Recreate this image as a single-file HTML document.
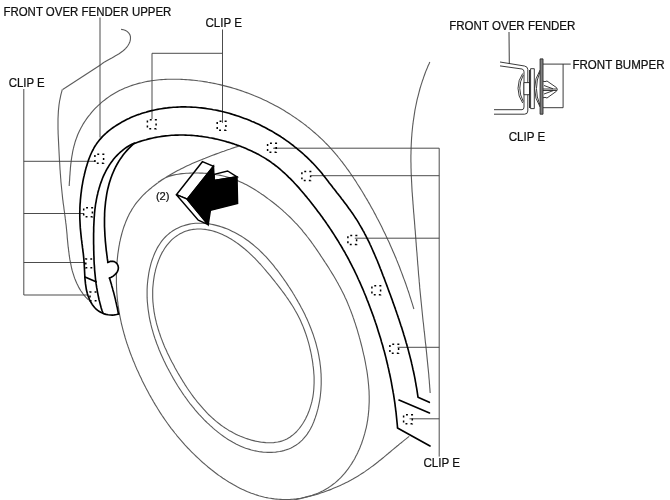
<!DOCTYPE html><html><head><meta charset="utf-8"><title>Front over fender upper</title>
<style>html,body{margin:0;padding:0;background:#fff}svg{display:block}text{font-family:"Liberation Sans",sans-serif;fill:#111}</style></head><body>
<svg width="670" height="500" viewBox="0 0 670 500">
<rect width="670" height="500" fill="#fff"/>
<g fill="none" stroke="#5c5c5c" stroke-width="1.12">
<path d="M121.1 29.4L123.5 29.7 125.6 30.5 127.4 31.6 128.8 33.0 129.8 34.6 130.4 36.4 130.5 38.2 130.3 40.1 129.8 42.0 129.0 43.8 128.0 45.5 126.8 47.1 125.5 48.6 124.0 50.0 122.5 51.3 120.8 52.5 119.1 53.7 117.3 54.8 115.5 55.8 113.6 56.9 111.8 57.9 109.9 58.9 108.1 59.9 106.3 60.9 104.6 61.9 103.0 63.0 101.5 64.1 100.1 65.3"/>
<path d="M62.3 89.4L61.8 91.3 61.3 93.2 60.8 95.2 60.4 97.1 60.0 99.1 59.6 101.0 59.3 103.0 59.0 105.0 58.8 107.0 58.6 108.9 58.4 110.9 58.3 112.9 58.2 114.9 58.1 116.9 58.0 118.9 58.0 120.9 58.0 122.9 58.0 125.0 58.0 127.0 58.0 129.0 58.1 131.0 58.1 133.0 58.2 135.0 58.3 137.1 58.4 139.1 58.5 141.1 58.6 143.1 58.7 145.1 58.8 147.2 58.9 149.2 59.0 151.2 59.1 153.2 59.2 155.2 59.3 157.2 59.4 159.2 59.5 161.2 59.7 163.2 59.8 165.2 59.9 167.2 60.0 169.2 60.2 171.2 60.3 173.2 60.5 175.2 60.6 177.2 60.8 179.2 60.9 181.2 61.1 183.2 61.3 185.2 61.5 187.2 61.7 189.2 61.9 191.2 62.1 193.2 62.3 195.1 62.5 197.1 62.7 199.1 63.0 201.1 63.2 203.1 63.5 205.0 63.8 207.0 64.0 209.0 64.3 211.0 64.6 213.0 64.8 214.9 65.1 216.9 65.3 218.9 65.6 220.9 65.8 222.9 66.1 224.9 66.3 226.9 66.5 228.9 66.7 231.0 66.9 233.0 67.1 235.0 67.2 237.1 67.4 239.1 67.6 241.1 67.8 243.1 68.0 245.2 68.2 247.2 68.5 249.2 68.7 251.2 69.0 253.2 69.2 255.2 69.5 257.2 69.8 259.2 70.2 261.2 70.6 263.2 71.0 265.1 71.4 267.1 71.8 269.0 72.3 270.9 72.9 272.8 73.5 274.7 74.1 276.6 74.7 278.4 75.5 280.2 76.2 282.1 77.0 283.8 77.9 285.6 78.8 287.4 79.8 289.1 80.8 290.8 82.0 292.4 83.1 294.0 84.4 295.6 85.7 297.2 87.2 298.7 88.7 300.2"/>
<path d="M69.2 186.0L69.3 184.0 69.4 182.0 69.6 180.1 69.7 178.1 69.8 176.1 70.0 174.1 70.1 172.1 70.3 170.1 70.4 168.1 70.6 166.1 70.8 164.1 71.1 162.1 71.3 160.1 71.6 158.1 71.9 156.1 72.3 154.1 72.6 152.1 73.0 150.2 73.5 148.2 73.9 146.3 74.5 144.3 75.0 142.4 75.6 140.5 76.3 138.6 77.0 136.7 77.7 134.8 78.5 133.0 79.3 131.2 80.2 129.4 81.2 127.6 82.1 125.9 83.1 124.1 84.2 122.4 85.3 120.7 86.4 119.1 87.6 117.4 88.8 115.8 90.1 114.3 91.4 112.7 92.7 111.2 94.0 109.7 95.4 108.2 96.8 106.8 98.3 105.4 99.8 104.1 101.3 102.7 102.8 101.4 104.4 100.2 105.9 99.0 107.6 97.8 109.2 96.6 110.8 95.5 112.5 94.5 114.2 93.5 115.9 92.5 117.7 91.5 119.4 90.6 121.2 89.8 123.0 88.9 124.8 88.1 126.6 87.4 128.4 86.7 130.3 86.0 132.1 85.4 134.0 84.8 135.9 84.2 137.8 83.6 139.7 83.1 141.7 82.7 143.6 82.2 145.5 81.8 147.5 81.4 149.5 81.1 151.4 80.8 153.4 80.5 155.4 80.2 157.4 80.0 159.4 79.8 161.4 79.6 163.5 79.5 165.5 79.4 167.5 79.3 169.5 79.2 171.6 79.2 173.6 79.2 175.6 79.2 177.7 79.2 179.7 79.3 181.7 79.4 183.8 79.5 185.8 79.6 187.8 79.7 189.9 79.9 191.9 80.1 193.9 80.3 196.0 80.5 198.0 80.8 200.0 81.0 202.0 81.3 204.0 81.6 206.0 81.9 208.0 82.3 210.0 82.6 211.9 83.0 213.9 83.4 215.9 83.8 217.8 84.2 219.8 84.6 221.7 85.1 223.7 85.6 225.6 86.1 227.6 86.6 229.5 87.1 231.4 87.6 233.3 88.2 235.2 88.8 237.1 89.4 239.0 90.0 240.9 90.6 242.8 91.2 244.6 91.9 246.5 92.6 248.4 93.3 250.2 94.0 252.1 94.7 253.9 95.5 255.7 96.2 257.6 97.0 259.4 97.8 261.2 98.6 263.0 99.4 264.8 100.3 266.6 101.1 268.4 102.0 270.2 102.9 271.9 103.8 273.7 104.7 275.5 105.7 277.2 106.6 279.0 107.6 280.7 108.6 282.4 109.6 284.2 110.6 285.9 111.7 287.6 112.7 289.3 113.8 291.0 114.9 292.6 116.0 294.3 117.1 296.0 118.2 297.6 119.4 299.2 120.5 300.9 121.7 302.5 122.9 304.1 124.1 305.7 125.3 307.2 126.6 308.8 127.8 310.4 129.1 311.9 130.4 313.4 131.7 315.0 133.0 316.5 134.3 318.0 135.6 319.4 137.0 320.9 138.4 322.3 139.7 323.8 141.1 325.2 142.6 326.6 144.0 328.0 145.4 329.4 146.9 330.7 148.4 332.1 149.8 333.4 151.3 334.7 152.8 336.0 154.4 337.3 155.9 338.5 157.5 339.8 159.0 341.0 160.6 342.3 162.2 343.5 163.8 344.7 165.4 345.9 167.0 347.0 168.6 348.2 170.2 349.4 171.8 350.5 173.5 351.6 175.1 352.8 176.8 353.9 178.5 355.0 180.1 356.1 181.8 357.1 183.5 358.2 185.2 359.3 186.9 360.4 188.6 361.4 190.3 362.5 192.0 363.5 193.7 364.5 195.4 365.5 197.2 366.6 198.9 367.6 200.6 368.6 202.4 369.6 204.1 370.5 205.8 371.5 207.6 372.5 209.3 373.5 211.1 374.4 212.9 375.4 214.6 376.3 216.4 377.2 218.2 378.2 219.9 379.1 221.7 380.0 223.5 380.9 225.3 381.8 227.1 382.7 228.9 383.5 230.7 384.4 232.5 385.3 234.3 386.1 236.1 387.0 237.9 387.8 239.7 388.7 241.5 389.5 243.3 390.3 245.2 391.1 247.0 391.9 248.8 392.7 250.7 393.5 252.5 394.3 254.3 395.1 256.2 395.9 258.0 396.6 259.9 397.4 261.7 398.1 263.6 398.9 265.5 399.6 267.3 400.3 269.2 401.0 271.1 401.7 272.9 402.4 274.8 403.1 276.7 403.8 278.6 404.5 280.4 405.2 282.3 405.9 284.2 406.5 286.1 407.2 288.0 407.8 289.9 408.5 291.8 409.1 293.7 409.7 295.6 410.3 297.5 410.9 299.4 411.5 301.3 412.1 303.2 412.7 305.1 413.3 307.1 413.9 309.0"/>
<path d="M429.8 62.0L429.0 63.9 428.1 65.7 427.4 67.6 426.6 69.5 425.8 71.4 425.1 73.3 424.4 75.2 423.7 77.1 423.1 79.0 422.4 80.9 421.8 82.8 421.2 84.7 420.6 86.6 420.0 88.5 419.5 90.5 419.0 92.4 418.5 94.3 418.0 96.3 417.5 98.2 417.0 100.2 416.6 102.1 416.2 104.1 415.8 106.0 415.4 108.0 415.0 109.9 414.7 111.9 414.4 113.9 414.1 115.8 413.8 117.8 413.5 119.8 413.2 121.8 413.0 123.7 412.7 125.7 412.5 127.7 412.3 129.7 412.1 131.7 411.9 133.7 411.8 135.7 411.6 137.6 411.5 139.6 411.4 141.6 411.3 143.6 411.2 145.6 411.1 147.6 411.1 149.6 411.0 151.6 411.0 153.6 410.9 155.6 410.9 157.6 410.9 159.6 410.9 161.6 411.0 163.6 411.0 165.6 411.0 167.6 411.1 169.6 411.1 171.6 411.2 173.6 411.3 175.6 411.4 177.6 411.5 179.6 411.6 181.6 411.7 183.6 411.8 185.6 411.9 187.6 412.0 189.6 412.1 191.6 412.3 193.6 412.4 195.6 412.6 197.6 412.7 199.6 412.9 201.6 413.0 203.6 413.2 205.6 413.3 207.6 413.5 209.6 413.6 211.6 413.8 213.6 414.0 215.6 414.1 217.6 414.3 219.6 414.5 221.6 414.6 223.6 414.8 225.6 414.9 227.6 415.1 229.6 415.3 231.6 415.4 233.6 415.6 235.6 415.7 237.6 415.9 239.6 416.0 241.6 416.2 243.6 416.3 245.6 416.5 247.6 416.6 249.6 416.8 251.5 417.0 253.5 417.1 255.5 417.3 257.5 417.4 259.5 417.6 261.5 417.7 263.5 417.9 265.5 418.1 267.5 418.2 269.5 418.4 271.5 418.5 273.5 418.7 275.5 418.9 277.5 419.1 279.5 419.2 281.4 419.4 283.4 419.6 285.4 419.7 287.4 419.9 289.4 420.1 291.4 420.3 293.4 420.5 295.4 420.7 297.4 420.9 299.4 421.1 301.4 421.3 303.3 421.5 305.3 421.7 307.3 421.9 309.3 422.1 311.3 422.3 313.3 422.5 315.3 422.7 317.3 422.9 319.3 423.1 321.3 423.4 323.2 423.6 325.2 423.8 327.2 424.0 329.2 424.2 331.2 424.5 333.2 424.7 335.2 424.9 337.2 425.1 339.2 425.3 341.2 425.5 343.1 425.8 345.1 426.0 347.1 426.2 349.1 426.4 351.1 426.6 353.1 426.8 355.1 427.0 357.1 427.2 359.1 427.4 361.1 427.6 363.1 427.8 365.1 428.0 367.1 428.2 369.0 428.4 371.0 428.6 373.0 428.8 375.0 428.9 377.0 429.1 379.0 429.3 381.0 429.4 383.0 429.6 385.0 429.7 387.0 429.9 389.0 430.0 391.0 430.2 393.0"/>
<path d="M409.2 436.4L407.6 437.6 406.0 438.9 404.4 440.1 402.9 441.4 401.3 442.7 399.7 443.9 398.2 445.2 396.6 446.5 395.1 447.8 393.5 449.1 391.9 450.4 390.4 451.7 388.8 453.0 387.3 454.3 385.7 455.6 384.2 456.9 382.6 458.2 381.0 459.5 379.4 460.7 377.9 462.0 376.3 463.3 374.7 464.5 373.1 465.7 371.4 466.9 369.8 468.1 368.2 469.3 366.5 470.4 364.9 471.6 363.2 472.7 361.5 473.8 359.8 474.9 358.1 476.0 356.4 477.0 354.6 478.0 352.9 479.0 351.1 480.0 349.3 480.9 347.5 481.9 345.7 482.8 343.9 483.7 342.1 484.6 340.3 485.4 338.4 486.2 336.6 487.1 334.7 487.8 332.8 488.6 331.0 489.4 329.1 490.1 327.2 490.8 325.3 491.5 323.3 492.2 321.4 492.8 319.5 493.5 317.6 494.1 315.6 494.7 313.7 495.2 311.7 495.8 309.8 496.3 307.8 496.8 305.8 497.3 303.9 497.8 301.9 498.3 299.9 498.7 297.9 499.1 296.0 499.5 294.0 499.9 292.0 500.2 290.0 500.6"/>
<path d="M100.0 65.3L62.7 89.5"/>
<path d="M239.0 145.9L237.1 146.6 235.2 147.2 233.3 147.9 231.5 148.5 229.6 149.2 227.7 149.8 225.8 150.5 223.9 151.2 222.0 151.8 220.2 152.5 218.3 153.2 216.4 153.9 214.5 154.6 212.6 155.3 210.7 156.0 208.9 156.7 207.0 157.4 205.1 158.2 203.2 158.9 201.4 159.7 199.5 160.4 197.7 161.2 195.8 162.0 194.0 162.8 192.1 163.6 190.3 164.4 188.5 165.3 186.7 166.1 184.8 167.0 183.0 167.9 181.2 168.8 179.5 169.7 177.7 170.6 175.9 171.6 174.2 172.5 172.4 173.5 170.7 174.5 169.0 175.5 167.2 176.6 165.5 177.6 163.9 178.7 162.2 179.8 160.5 181.0 158.9 182.1 157.2 183.3 155.6 184.5 154.0 185.7 152.4 186.9 150.9 188.2 149.3 189.5 147.8 190.8 146.3 192.1 144.9 193.5 143.4 194.9 142.0 196.3 140.7 197.8 139.4 199.3 138.1 200.8 136.8 202.3 135.6 203.9 134.5 205.5 133.4 207.2 132.3 208.8 131.3 210.6 130.3 212.3 129.3 214.0 128.5 215.8 127.6 217.6 126.8 219.4 126.0 221.2 125.3 223.1 124.6 225.0 123.9 226.8 123.3 228.7 122.7 230.7 122.1 232.6 121.6 234.5 121.1 236.5 120.6 238.4 120.2 240.4 119.7 242.4 119.4 244.4 119.0 246.3 118.7 248.3 118.4 250.3 118.1 252.3 117.8 254.4 117.6 256.4 117.4 258.4 117.2 260.4 117.0 262.4 116.9 264.4 116.7 266.4 116.6 268.5 116.5 270.5 116.5 272.5 116.4 274.5 116.4 276.5 116.4 278.5 116.4 280.5 116.4 282.5 116.5 284.5 116.5 286.5 116.6 288.5 116.7 290.5 116.8 292.5 117.0 294.5 117.1 296.4 117.3 298.4 117.5 300.4 117.8 302.4 118.0 304.4 118.3 306.3 118.6 308.3 118.9 310.3 119.2 312.2 119.5 314.2 119.9 316.2 120.3 318.1 120.7 320.1 121.1 322.0 121.5 324.0 122.0 325.9 122.5 327.8 123.0 329.8 123.5 331.7 124.0 333.6 124.6 335.5 125.1 337.5 125.7 339.4 126.3 341.3 126.9 343.2 127.6 345.1 128.2 347.0 128.9 348.9 129.5 350.8 130.2 352.7 130.9 354.5 131.6 356.4 132.4 358.3 133.1 360.2 133.9 362.0 134.7 363.9 135.4 365.7 136.2 367.6 137.0 369.4 137.9 371.3 138.7 373.1 139.5 374.9 140.4 376.7 141.3 378.6 142.1 380.4 143.0 382.2 143.9 384.0 144.8 385.8 145.7 387.6 146.7 389.4 147.6 391.1 148.6 392.9 149.5 394.7 150.5 396.4 151.5 398.2 152.5 399.9 153.5 401.7 154.5 403.4 155.5 405.1 156.6 406.8 157.6 408.5 158.7 410.2 159.7 411.9 160.8 413.6 161.9 415.3 163.0 416.9 164.2 418.6 165.3 420.2 166.4 421.8 167.6 423.5 168.8 425.1 169.9 426.7 171.1 428.3 172.4 429.8 173.6 431.4 174.8 433.0 176.1 434.5 177.3 436.1 178.6 437.6 179.9 439.1 181.2 440.6 182.5 442.1 183.8 443.6 185.1 445.1 186.5 446.6 187.8 448.0 189.2 449.4 190.6 450.9 192.0 452.3 193.4 453.7 194.9 455.1 196.3 456.5 197.8 457.9 199.2 459.2 200.7 460.6 202.2 462.0 203.7 463.3 205.3 464.6 206.8 465.9 208.3 467.2 209.9 468.5 211.5 469.8 213.1 471.0 214.7 472.3 216.3 473.5 217.9 474.7 219.6 475.9 221.3 477.0 222.9 478.2 224.6 479.3 226.3 480.4 228.0 481.5 229.7 482.6 231.5 483.6 233.2 484.6 235.0 485.6 236.7 486.6 238.5 487.5 240.3 488.4 242.1 489.3 243.9 490.1 245.8 490.9 247.6 491.7 249.5 492.4 251.3 493.2 253.2 493.8 255.1 494.5 257.0 495.1 258.9 495.7 260.8 496.2 262.7 496.7 264.6 497.2 266.6 497.6 268.5 498.0 270.5 498.3 272.5 498.6 274.4 498.9 276.4 499.1 278.4 499.3 280.4 499.4 282.4 499.5 284.5 499.5 286.5 499.5 288.5 499.5 290.5 499.4 292.5 499.2 294.5 499.0 296.5 498.8 298.5 498.5 300.5 498.2 302.5 497.8 304.5 497.4 306.4 496.9 308.4 496.4 310.3 495.9 312.2 495.3 314.1 494.6 315.9 493.9 317.8 493.2 319.6 492.4 321.4 491.5 323.2 490.7 324.9 489.7 326.6 488.7 328.3 487.7 329.9 486.6 331.6 485.5 333.1 484.3 334.7 483.1 336.2 481.8 337.7 480.5 339.1 479.2 340.5 477.8 341.9 476.3 343.2 474.9 344.6 473.4 345.8 471.8 347.1 470.2 348.3 468.6 349.4 467.0 350.6 465.3 351.7 463.6 352.7 461.9 353.8 460.2 354.8 458.4 355.7 456.6 356.7 454.8 357.6 452.9 358.4 451.1 359.3 449.2 360.1 447.3 360.8 445.4 361.6 443.5 362.2 441.5 362.9 439.6 363.5 437.6 364.1 435.7 364.7 433.7 365.2 431.7 365.7 429.7 366.2 427.8 366.6 425.8 367.0 423.8 367.3 421.8 367.7 419.8 367.9 417.8 368.2 415.9 368.4 413.9 368.6 411.9 368.8 409.9 368.9 407.9 369.0 405.9 369.1 404.0 369.2 402.0 369.2 400.0 369.2 398.0 369.2 396.1 369.1 394.1 369.1 392.1 369.0 390.1 368.8 388.2 368.7 386.2 368.5 384.2 368.3 382.2 368.1 380.3 367.9 378.3 367.6 376.3 367.4 374.4 367.1 372.4 366.8 370.4 366.4 368.5 366.1 366.5 365.7 364.5 365.4 362.6 365.0 360.6 364.6 358.7 364.2 356.7 363.7 354.7 363.3 352.8 362.8 350.8 362.4 348.9 361.9 346.9 361.4 345.0 360.9 343.0 360.4 341.1 359.9 339.1 359.3 337.2 358.8 335.2 358.2 333.3 357.7 331.4 357.1 329.4 356.5 327.5 355.9 325.6 355.3 323.6 354.6 321.7 354.0 319.8 353.3 317.9 352.7 316.0 352.0 314.1 351.3 312.2 350.6 310.4 349.8 308.5 349.1 306.6 348.3 304.8 347.6 302.9 346.8 301.1 346.0 299.3 345.1 297.4 344.3 295.6 343.4 293.8 342.5 292.0 341.6 290.3 340.7 288.5 339.8 286.7 338.8 285.0 337.9 283.2 336.9 281.5 335.9 279.7 334.9 278.0 333.9 276.3 332.9 274.6 331.8 272.9 330.8 271.2 329.7 269.5 328.7 267.8 327.6 266.1 326.5 264.4 325.4 262.8 324.3 261.1 323.2 259.4 322.1 257.7 321.0 256.1 319.9 254.4 318.8 252.7 317.7 251.1 316.5 249.4 315.4 247.8 314.2 246.1 313.1 244.5 311.9 242.9 310.7 241.2 309.5 239.6 308.3 238.0 307.1 236.5 305.9 234.9 304.6 233.3 303.3 231.8 302.1 230.2 300.8 228.7 299.4 227.2 298.1 225.7 296.8 224.2 295.4 222.8 294.0 221.3 292.6 219.9 291.2 218.4 289.8 217.0 288.3 215.6 286.9 214.3 285.4 212.9 283.9 211.6 282.4 210.2 280.9 208.9 279.4 207.6 277.8 206.3 276.3 205.0 274.7 203.8 273.1 202.5 271.5 201.3 270.0 200.1 268.3 198.9 266.7 197.7 265.1 196.5 263.5 195.3 261.8 194.2 260.2 193.1 258.5 192.0 256.8 190.9 255.1 189.8 253.4 188.7 251.7 187.7 250.0 186.7 248.2 185.7 246.5 184.8 244.7 183.9 242.9 183.0 241.1 182.2 239.3 181.4 237.5 180.6 235.6 179.9 233.8 179.2 231.9 178.5 230.0 177.9 228.1 177.3 226.1 176.8 224.2 176.3 222.2 175.8 220.3 175.4 218.3 175.0 216.3 174.7 214.3 174.3 212.3 174.1 210.3 173.8 208.3 173.6 206.3 173.4 204.3 173.3 202.3 173.1 200.2 173.1 198.2 173.0 196.2 173.0 194.2 173.0 192.2 173.0 190.1 173.1 188.1 173.2 186.1 173.3 184.1 173.5 182.1 173.6 180.2 173.9 178.2 174.2 176.2 174.5 174.3 174.9 172.4 175.4 170.5 175.9 168.7 176.6 166.8 177.3 165.0 178.1 163.2 179.0 161.5 180.0 159.8 181.1 158.1 182.3"/>
<path d="M187.6 224.6L189.5 224.1 191.4 223.8 193.4 223.5 195.4 223.3 197.3 223.2 199.3 223.2 201.3 223.2 203.3 223.3 205.3 223.4 207.3 223.6 209.2 223.9 211.2 224.2 213.2 224.6 215.2 225.1 217.1 225.6 219.1 226.1 221.0 226.7 223.0 227.4 224.9 228.1 226.8 228.8 228.7 229.6 230.6 230.5 232.4 231.4 234.3 232.3 236.1 233.2 237.9 234.2 239.6 235.3 241.4 236.3 243.1 237.4 244.8 238.5 246.5 239.7 248.1 240.8 249.7 242.0 251.3 243.3 252.9 244.5 254.4 245.8 255.9 247.1 257.4 248.4 258.9 249.7 260.3 251.1 261.7 252.5 263.1 253.9 264.5 255.3 265.9 256.7 267.2 258.2 268.5 259.7 269.8 261.2 271.1 262.7 272.4 264.2 273.7 265.7 274.9 267.3 276.1 268.8 277.4 270.4 278.6 272.0 279.8 273.6 280.9 275.2 282.1 276.8 283.3 278.5 284.4 280.1 285.6 281.8 286.7 283.4 287.8 285.1 288.9 286.8 290.0 288.4 291.1 290.1 292.2 291.8 293.2 293.5 294.3 295.2 295.3 297.0 296.3 298.7 297.3 300.4 298.3 302.2 299.3 303.9 300.3 305.7 301.2 307.5 302.2 309.2 303.1 311.0 304.0 312.8 304.9 314.6 305.7 316.4 306.6 318.2 307.4 320.0 308.2 321.9 309.0 323.7 309.7 325.6 310.5 327.4 311.2 329.3 311.9 331.1 312.6 333.0 313.3 334.9 313.9 336.8 314.5 338.7 315.1 340.6 315.7 342.5 316.2 344.4 316.7 346.4 317.2 348.3 317.7 350.2 318.1 352.2 318.5 354.1 318.9 356.1 319.2 358.1 319.6 360.1 319.9 362.0 320.1 364.0 320.4 366.0 320.6 368.0 320.8 370.1 320.9 372.1 321.1 374.1 321.1 376.1 321.2 378.1 321.2 380.1 321.2 382.2 321.2 384.2 321.1 386.2 321.0 388.2 320.9 390.3 320.7 392.3 320.5 394.3 320.3 396.3 320.0 398.3 319.7 400.3 319.3 402.3 318.9 404.3 318.5 406.3 318.1 408.2 317.6 410.2 317.0 412.1 316.5 414.1 315.8 416.0 315.2 417.9 314.5 419.8 313.8 421.7 313.0 423.6 312.2 425.4 311.3 427.2 310.4 429.0 309.4 430.8 308.3 432.4 307.2 434.1 306.1 435.7 304.8 437.2 303.5 438.7 302.2 440.1 300.8 441.4 299.3 442.7 297.8 443.9 296.2 445.0 294.5 446.0 292.8 447.0 291.1 447.9 289.3 448.7 287.5 449.4 285.6 450.0 283.7 450.6 281.7 451.1 279.8 451.5 277.8 451.8 275.7 452.1 273.7 452.2 271.7 452.4 269.6 452.4 267.5 452.4 265.5 452.3 263.4 452.2 261.4 451.9 259.4 451.7 257.3 451.3 255.3 450.9 253.4 450.5 251.4 450.0 249.5 449.4 247.5 448.8 245.6 448.2 243.8 447.5 241.9 446.7 240.1 445.9 238.2 445.1 236.4 444.2 234.7 443.3 232.9 442.3 231.2 441.3 229.4 440.3 227.7 439.2 226.1 438.1 224.4 437.0 222.7 435.8 221.1 434.6 219.5 433.4 217.9 432.1 216.4 430.9 214.8 429.6 213.3 428.3 211.8 426.9 210.3 425.6 208.8 424.2 207.3 422.9 205.9 421.5 204.5 420.1 203.1 418.6 201.7 417.2 200.3 415.7 199.0 414.3 197.7 412.8 196.4 411.3 195.1 409.8 193.8 408.2 192.5 406.7 191.3 405.1 190.0 403.6 188.8 402.0 187.6 400.4 186.5 398.8 185.3 397.1 184.1 395.5 183.0 393.9 181.9 392.2 180.8 390.5 179.7 388.9 178.6 387.2 177.5 385.5 176.5 383.8 175.4 382.0 174.4 380.3 173.4 378.6 172.4 376.8 171.4 375.1 170.5 373.3 169.5 371.5 168.6 369.7 167.6 368.0 166.7 366.2 165.8 364.4 164.9 362.5 164.0 360.7 163.2 358.9 162.3 357.1 161.5 355.2 160.7 353.4 159.9 351.5 159.1 349.7 158.4 347.8 157.7 345.9 156.9 344.0 156.3 342.2 155.6 340.3 154.9 338.4 154.3 336.5 153.7 334.6 153.1 332.6 152.6 330.7 152.0 328.8 151.5 326.9 151.0 324.9 150.6 323.0 150.1 321.0 149.7 319.1 149.3 317.1 149.0 315.2 148.7 313.2 148.4 311.2 148.1 309.3 147.9 307.3 147.7 305.3 147.5 303.3 147.3 301.4 147.2 299.4 147.1 297.4 147.1 295.4 147.1 293.4 147.1 291.4 147.1 289.4 147.2 287.4 147.3 285.4 147.5 283.3 147.7 281.3 147.9 279.3 148.2 277.3 148.5 275.3 148.8 273.2 149.2 271.2 149.6 269.2 150.1 267.2 150.6 265.2 151.1 263.2 151.7 261.2 152.4 259.3 153.1 257.4 153.8 255.4 154.6 253.6 155.4 251.7 156.3 249.9 157.2 248.1 158.2 246.4 159.3 244.7 160.4 243.0 161.5 241.4 162.7 239.9 164.0 238.4 165.3 237.0 166.7 235.6 168.2 234.3 169.7 233.0 171.3 231.9 172.9 230.7 174.6 229.7 176.3 228.8 178.1 227.9 180.0 227.1 181.8 226.3 183.7 225.7 185.6 225.1 187.6 224.6Z"/>
<path d="M187.3 230.7L189.2 230.1 191.2 229.7 193.2 229.4 195.1 229.2 197.1 229.0 199.1 229.0 201.1 229.0 203.1 229.2 205.1 229.4 207.1 229.7 209.1 230.1 211.1 230.5 213.0 231.0 214.9 231.6 216.9 232.3 218.8 233.0 220.6 233.8 222.5 234.6 224.3 235.4 226.1 236.3 227.9 237.3 229.6 238.3 231.4 239.3 233.1 240.4 234.8 241.5 236.4 242.6 238.1 243.8 239.7 245.0 241.3 246.2 242.9 247.5 244.4 248.7 245.9 250.0 247.5 251.4 248.9 252.7 250.4 254.1 251.8 255.4 253.3 256.8 254.7 258.2 256.1 259.7 257.5 261.1 258.8 262.6 260.2 264.0 261.5 265.5 262.8 267.0 264.1 268.5 265.5 270.1 266.7 271.6 268.0 273.1 269.3 274.7 270.6 276.2 271.9 277.8 273.1 279.3 274.4 280.9 275.6 282.5 276.9 284.1 278.1 285.7 279.4 287.3 280.6 288.9 281.8 290.5 283.0 292.1 284.2 293.7 285.4 295.3 286.5 297.0 287.7 298.6 288.8 300.3 289.9 301.9 291.0 303.6 292.1 305.3 293.2 307.0 294.2 308.7 295.2 310.5 296.2 312.2 297.2 314.0 298.1 315.7 299.0 317.5 299.9 319.3 300.7 321.1 301.5 322.9 302.3 324.8 303.1 326.6 303.8 328.5 304.5 330.3 305.2 332.2 305.9 334.1 306.5 336.0 307.1 337.9 307.7 339.8 308.3 341.8 308.8 343.7 309.3 345.6 309.8 347.6 310.2 349.5 310.7 351.5 311.1 353.5 311.5 355.4 311.8 357.4 312.2 359.4 312.5 361.4 312.8 363.4 313.0 365.4 313.3 367.3 313.5 369.3 313.7 371.3 313.8 373.3 314.0 375.3 314.1 377.3 314.1 379.3 314.1 381.3 314.1 383.3 314.0 385.3 313.9 387.3 313.8 389.3 313.6 391.3 313.4 393.3 313.1 395.3 312.8 397.3 312.4 399.2 312.0 401.2 311.5 403.2 310.9 405.2 310.3 407.1 309.7 409.1 309.0 411.0 308.2 413.0 307.4 414.9 306.5 416.8 305.6 418.7 304.6 420.5 303.6 422.3 302.5 424.0 301.3 425.7 300.1 427.4 298.8 429.0 297.5 430.5 296.2 432.0 294.7 433.3 293.3 434.6 291.7 435.8 290.2 437.0 288.5 438.0 286.9 438.9 285.1 439.8 283.3 440.5 281.5 441.1 279.6 441.6 277.7 442.0 275.8 442.3 273.8 442.6 271.8 442.7 269.8 442.7 267.8 442.7 265.7 442.6 263.7 442.4 261.6 442.2 259.6 441.9 257.5 441.5 255.5 441.1 253.5 440.6 251.5 440.1 249.5 439.5 247.5 438.9 245.6 438.3 243.7 437.6 241.8 436.8 239.9 436.1 238.1 435.3 236.3 434.4 234.5 433.5 232.8 432.6 231.1 431.6 229.3 430.7 227.7 429.6 226.0 428.6 224.4 427.5 222.7 426.4 221.1 425.2 219.6 424.0 218.0 422.8 216.5 421.6 215.0 420.3 213.5 419.0 212.0 417.7 210.6 416.3 209.1 415.0 207.7 413.6 206.3 412.1 205.0 410.7 203.6 409.2 202.3 407.7 201.0 406.2 199.7 404.7 198.4 403.2 197.1 401.6 195.9 400.0 194.6 398.4 193.4 396.8 192.2 395.2 191.0 393.5 189.8 391.8 188.7 390.2 187.5 388.5 186.4 386.8 185.3 385.1 184.2 383.3 183.1 381.6 182.0 379.8 181.0 378.1 179.9 376.3 178.9 374.6 177.8 372.8 176.8 371.0 175.8 369.2 174.8 367.4 173.9 365.6 172.9 363.8 171.9 362.0 171.0 360.2 170.1 358.4 169.2 356.6 168.3 354.8 167.4 352.9 166.6 351.1 165.8 349.2 164.9 347.4 164.1 345.5 163.4 343.7 162.6 341.8 161.9 339.9 161.2 338.1 160.5 336.2 159.9 334.3 159.2 332.4 158.6 330.5 158.0 328.6 157.5 326.7 156.9 324.8 156.4 322.9 156.0 321.0 155.5 319.1 155.1 317.1 154.7 315.2 154.4 313.3 154.0 311.3 153.8 309.4 153.5 307.4 153.3 305.5 153.1 303.5 152.9 301.6 152.8 299.6 152.7 297.6 152.7 295.7 152.7 293.7 152.7 291.7 152.7 289.7 152.8 287.7 153.0 285.7 153.2 283.7 153.4 281.7 153.7 279.7 154.0 277.7 154.3 275.7 154.7 273.7 155.2 271.7 155.6 269.7 156.2 267.7 156.8 265.7 157.4 263.7 158.1 261.8 158.8 259.9 159.6 258.0 160.4 256.1 161.3 254.2 162.2 252.4 163.3 250.7 164.3 249.0 165.4 247.3 166.6 245.7 167.9 244.1 169.2 242.6 170.5 241.1 171.9 239.7 173.4 238.4 175.0 237.1 176.6 236.0 178.3 234.9 180.0 233.8 181.8 232.9 183.6 232.1 185.4 231.3 187.3 230.7Z"/>
</g>
<g fill="none" stroke="#424242" stroke-width="0.95">
<path d="M100.0 17.5L100.0 137.5"/>
<path d="M23.8 89.0L23.8 295.0"/>
<path d="M23.8 161.3L95.2 161.3"/>
<path d="M23.8 213.5L84.0 213.5"/>
<path d="M23.8 262.5L85.0 262.5"/>
<path d="M23.8 295.0L88.0 295.0"/>
<path d="M222.5 29.5L222.5 122.8"/>
<path d="M152.0 119.0L152.0 53.3L222.5 53.3"/>
<path d="M273.2 148.2L439.2 148.2L439.2 456.6"/>
<path d="M310.6 175.7L439.2 175.7"/>
<path d="M354.8 238.2L439.2 238.2"/>
<path d="M397.5 347.3L439.2 347.3"/>
<path d="M409.5 418.8L439.2 418.8"/>
<path d="M273 148.2l3.2 -1.1v2.2z" fill="#555" stroke="none"/>
</g>
<g fill="none" stroke="#000" stroke-width="1.65" stroke-linecap="round" stroke-linejoin="round">
<path fill="#fff" d="M107.7 262.5L110.1 261.4 112.4 261.2 114.3 261.6 115.9 262.6 117.2 264.0 118.0 265.7 118.4 267.6 118.2 269.5 117.5 271.4 116.4 273.2 114.9 274.7 113.2 276.1 111.3 277.2 109.4 277.9"/>
<path d="M118.8 314.0L116.6 314.5 114.4 314.9 112.3 315.1 110.2 315.0 108.1 314.8 106.1 314.4 104.2 313.9 102.4 313.1 100.6 312.3 99.0 311.3 97.4 310.1 95.9 308.8 94.6 307.5 93.4 306.0 92.2 304.4 91.2 302.8 90.3 301.1 89.4 299.3 88.7 297.5 88.0 295.6 87.4 293.7 86.9 291.8 86.4 289.8 86.1 287.9 85.8 285.9 85.5 283.9 85.3 281.9 85.1 279.9 84.9 277.9 84.8 275.8 84.7 273.8 84.6 271.8 84.5 269.7 84.4 267.7 84.3 265.7 84.2 263.6 84.0 261.6 83.9 259.6 83.7 257.6 83.5 255.6 83.3 253.6 83.0 251.6 82.8 249.6 82.5 247.7 82.3 245.7 82.0 243.7 81.8 241.7 81.5 239.7 81.3 237.8 81.1 235.8 80.9 233.8 80.7 231.8 80.5 229.8 80.3 227.9 80.2 225.9 80.1 223.9 80.0 221.9 79.9 219.9 79.8 217.9 79.8 215.9 79.8 213.9 79.8 211.8 79.9 209.8 79.9 207.8 80.0 205.8 80.1 203.8 80.3 201.8 80.4 199.8 80.6 197.8 80.8 195.8 81.0 193.8 81.3 191.8 81.5 189.8 81.8 187.8 82.1 185.8 82.5 183.8 82.8 181.8 83.2 179.9 83.6 177.9 84.1 175.9 84.5 174.0 85.0 172.0 85.5 170.0 86.0 168.1 86.6 166.2 87.2 164.2 87.8 162.3 88.4 160.4 89.1 158.5 89.8 156.7 90.6 154.8 91.4 153.0 92.3 151.2 93.2 149.5 94.1 147.7 95.1 146.0 96.2 144.4 97.3 142.7 98.5 141.2 99.8 139.6 101.1 138.1 102.4 136.6 103.9 135.2 105.3 133.8 106.8 132.5 108.4 131.2 110.0 129.9 111.6 128.7 113.2 127.5 114.9 126.4 116.6 125.3 118.3 124.2 120.0 123.2 121.8 122.1 123.5 121.2 125.3 120.2 127.1 119.3 129.0 118.5 130.8 117.6 132.6 116.8 134.5 116.1 136.4 115.3 138.3 114.6 140.2 114.0 142.1 113.3 144.0 112.7 145.9 112.2 147.8 111.6 149.7 111.1 151.7 110.6 153.6 110.2 155.6 109.8 157.5 109.4 159.5 109.0 161.5 108.7 163.4 108.4 165.4 108.1 167.4 107.9 169.4 107.6 171.4 107.5 173.3 107.3 175.3 107.2 177.3 107.1 179.3 107.0 181.3 106.9 183.3 106.9 185.3 106.9 187.3 107.0 189.3 107.0 191.3 107.1 193.3 107.2 195.4 107.3 197.4 107.5 199.4 107.7 201.4 107.9 203.4 108.1 205.4 108.4 207.3 108.7 209.3 109.0 211.3 109.3 213.3 109.7 215.3 110.0 217.3 110.4 219.3 110.9 221.2 111.3 223.2 111.8 225.1 112.3 227.1 112.8 229.1 113.3 231.0 113.9 232.9 114.5 234.9 115.1 236.8 115.7 238.7 116.3 240.6 117.0 242.5 117.7 244.4 118.4 246.3 119.1 248.2 119.8 250.0 120.6 251.9 121.4 253.7 122.1 255.6 123.0 257.4 123.8 259.2 124.6 261.0 125.5 262.8 126.4 264.6 127.3 266.4 128.2 268.1 129.2 269.9 130.2 271.6 131.1 273.4 132.1 275.1 133.2 276.8 134.2 278.5 135.2 280.2 136.3 281.8 137.4 283.5 138.5 285.1 139.6 286.8 140.8 288.4 141.9 290.0 143.1 291.6 144.3 293.2 145.5 294.7 146.8 296.3 148.0 297.8 149.3 299.4 150.6 300.9 151.9 302.4 153.2 303.9 154.5 305.3 155.8 306.8 157.2 308.3 158.6 309.7 160.0 311.1 161.4 312.5 162.8 313.9 164.3 315.3 165.8 316.6 167.2 317.9 168.7 319.3 170.3 320.6 171.8 321.9 173.3 323.1 174.9 324.4 176.5 325.6 178.1 326.9 179.7 328.1 181.3 329.3 182.9 330.6 184.5 331.8 186.1 333.0 187.7 334.3 189.2 335.5 190.8 336.7 192.4 338.0 194.0 339.2 195.6 340.4 197.1 341.6 198.7 342.9 200.3 344.1 201.9 345.3 203.5 346.5 205.1 347.7 206.7 348.9 208.4 350.1 210.0 351.2 211.6 352.4 213.3 353.5 214.9 354.6 216.6 355.7 218.3 356.8 219.9 357.9 221.6 358.9 223.3 359.9 225.1 360.9 226.8 361.9 228.5 362.9 230.3 363.9 232.0 364.8 233.8 365.7 235.5 366.6 237.3 367.5 239.1 368.4 240.9 369.3 242.7 370.1 244.5 371.0 246.3 371.8 248.2 372.6 250.0 373.4 251.8 374.2 253.6 375.0 255.5 375.8 257.3 376.6 259.2 377.4 261.0 378.1 262.9 378.9 264.8 379.6 266.6 380.3 268.5 381.1 270.4 381.8 272.3 382.5 274.1 383.2 276.0 384.0 277.9 384.7 279.8 385.4 281.7 386.1 283.5 386.8 285.4 387.5 287.3 388.2 289.2 388.9 291.1 389.6 293.0 390.3 294.8 391.0 296.7 391.7 298.6 392.4 300.5 393.0 302.4 393.7 304.3 394.4 306.2 395.1 308.1 395.7 310.0 396.4 311.9 397.0 313.8 397.7 315.7 398.3 317.6 399.0 319.5 399.6 321.4 400.2 323.3 400.8 325.2 401.5 327.1 402.1 329.0 402.7 330.9 403.3 332.8 403.8 334.7 404.4 336.6 405.0 338.6 405.6 340.5 406.1 342.4 406.7 344.3 407.2 346.3 407.8 348.2 408.3 350.1 408.8 352.1 409.3 354.0 409.8 355.9 410.3 357.9 410.8 359.8 411.3 361.7 411.7 363.7 412.2 365.6 412.6 367.6 413.0 369.5 413.5 371.5 413.9 373.5 414.3 375.4 414.7 377.4 415.1 379.4 415.4 381.3 415.8 383.3 416.1 385.3 416.5 387.3 416.8 389.2 417.1 391.2 417.4 393.2 417.7 395.2 418.0 397.2L429.3 402.3"/>
<path d="M118.5 314.0L118.1 312.0 117.7 310.0 117.3 307.9 116.8 305.9 116.4 303.9 115.9 301.9 115.5 299.9 115.0 297.9 114.5 295.9 114.0 293.9 113.5 291.9 112.9 289.9 112.4 287.9 111.8 285.9 111.3 283.9 110.7 282.0 110.1 280.0 109.5 278.0"/>
<path d="M134.5 143.5L136.4 142.8 138.3 142.1 140.3 141.4 142.2 140.8 144.1 140.2 146.1 139.7 148.0 139.1 150.0 138.6 151.9 138.2 153.9 137.8 155.8 137.4 157.8 137.0 159.8 136.7 161.7 136.4 163.7 136.1 165.7 135.9 167.7 135.7 169.7 135.5 171.6 135.3 173.6 135.2 175.6 135.1 177.6 135.1 179.6 135.0 181.6 135.0 183.6 135.0 185.6 135.1 187.6 135.2 189.5 135.3 191.5 135.4 193.5 135.5 195.5 135.7 197.5 135.9 199.5 136.2 201.5 136.4 203.5 136.7 205.4 137.0 207.4 137.3 209.4 137.7 211.4 138.0 213.3 138.4 215.3 138.9 217.3 139.3 219.2 139.8 221.2 140.3 223.1 140.8 225.1 141.3 227.0 141.9 229.0 142.4 230.9 143.0 232.8 143.6 234.7 144.3 236.6 144.9 238.5 145.6 240.4 146.3 242.3 147.1 244.2 147.8 246.1 148.6 247.9 149.4 249.8 150.2 251.6 151.0 253.4 151.9 255.2 152.8 257.0 153.7 258.8 154.6 260.5 155.6 262.2 156.6 264.0 157.6 265.7 158.6 267.3 159.7 269.0 160.8 270.6 161.9 272.2 163.1 273.8 164.2 275.4 165.5 277.0 166.7 278.5 167.9 280.0 169.2 281.5 170.5 283.0 171.8 284.5 173.1 286.0 174.5 287.4 175.9 288.8 177.3 290.3 178.7 291.7 180.1 293.1 181.5 294.4 183.0 295.8 184.5 297.1 185.9 298.5 187.4 299.8 188.9 301.1 190.5 302.4 192.0 303.7 193.5 305.0 195.1 306.3 196.6 307.6 198.2 308.9 199.7 310.1 201.3 311.4 202.9 312.6 204.5 313.8 206.1 315.1 207.7 316.3 209.3 317.5 210.9 318.7 212.5 319.9 214.1 321.1 215.7 322.3 217.3 323.4 219.0 324.6 220.6 325.8 222.2 326.9 223.9 328.0 225.5 329.2 227.2 330.3 228.9 331.4 230.5 332.5 232.2 333.6 233.9 334.7 235.6 335.7 237.3 336.8 239.0 337.9 240.7 338.9 242.4 339.9 244.1 341.0 245.8 342.0 247.5 343.0 249.3 344.0 251.0 345.0 252.7 345.9 254.5 346.9 256.2 347.9 258.0 348.8 259.7 349.7 261.5 350.7 263.3 351.6 265.1 352.5 266.9 353.4 268.6 354.3 270.4 355.1 272.2 356.0 274.0 356.9 275.8 357.7 277.7 358.5 279.5 359.4 281.3 360.2 283.1 361.0 285.0 361.8 286.8 362.6 288.6 363.4 290.5 364.1 292.3 364.9 294.2 365.7 296.0 366.4 297.9 367.1 299.8 367.9 301.6 368.6 303.5 369.3 305.4 370.0 307.2 370.7 309.1 371.4 311.0 372.1 312.9 372.8 314.8 373.5 316.6 374.1 318.5 374.8 320.4 375.4 322.3 376.1 324.2 376.7 326.1 377.3 328.0 377.9 330.0 378.5 331.9 379.1 333.8 379.7 335.7 380.3 337.6 380.9 339.5 381.4 341.5 382.0 343.4 382.6 345.3 383.1 347.2 383.6 349.2 384.2 351.1 384.7 353.0 385.2 355.0 385.7 356.9 386.2 358.9 386.6 360.8 387.1 362.8 387.6 364.7 388.0 366.7 388.5 368.6 388.9 370.6 389.3 372.5 389.8 374.5 390.2 376.5 390.6 378.4 391.0 380.4 391.4 382.4 391.7 384.3 392.1 386.3 392.4 388.3 392.8 390.2 393.1 392.2 393.5 394.2 393.8 396.2 394.1 398.1 394.4 400.1 394.7 402.1 395.0 404.1 395.2 406.1 395.5 408.1 395.7 410.1 396.0 412.0 396.2 414.0 396.4 416.0 396.6 418.0 396.8 420.0 397.0 422.0 397.2 424.0 397.4 426.0 397.5 428.0L430 446"/>
<path d="M107.9 262.3L107.6 260.4 107.3 258.4 107.1 256.5 106.8 254.5 106.6 252.6 106.3 250.6 106.1 248.6 105.9 246.6 105.7 244.6 105.5 242.6 105.3 240.6 105.2 238.5 105.0 236.5 104.9 234.5 104.8 232.4 104.7 230.4 104.6 228.3 104.5 226.2 104.5 224.2 104.5 222.1 104.5 220.1 104.5 218.0 104.6 215.9 104.6 213.9 104.7 211.8 104.8 209.8 105.0 207.7 105.2 205.7 105.4 203.7 105.6 201.6 105.9 199.6 106.2 197.6 106.5 195.6 106.8 193.6 107.2 191.6 107.6 189.6 108.1 187.7 108.6 185.7 109.1 183.8 109.7 181.8 110.3 179.9 110.9 178.0 111.6 176.2 112.3 174.3 113.1 172.5 113.9 170.6 114.7 168.8 115.6 167.0 116.5 165.3 117.5 163.5 118.5 161.8 119.6 160.1 120.7 158.4 121.9 156.8 123.1 155.1 124.3 153.5 125.6 152.0 127.0 150.4 128.4 148.9 129.9 147.4 131.4 145.9 133.0 144.5 134.6 143.1"/>
<path d="M133.6 143.4L131.8 144.3 130.0 145.2 128.3 146.2 126.6 147.3 125.0 148.4 123.4 149.6 121.9 150.9 120.4 152.1 118.9 153.5 117.5 154.9 116.1 156.3 114.8 157.8 113.5 159.3 112.3 160.9 111.1 162.5 110.0 164.1 108.9 165.8 107.9 167.5 106.9 169.2 105.9 171.0 105.0 172.8 104.1 174.6 103.3 176.4 102.5 178.3 101.8 180.2 101.1 182.1 100.4 184.0 99.8 185.9 99.2 187.9 98.7 189.8 98.1 191.7 97.7 193.7 97.2 195.7 96.8 197.6 96.4 199.6 96.1 201.6 95.7 203.5 95.4 205.5 95.2 207.5 94.9 209.5 94.7 211.5 94.5 213.5 94.4 215.5 94.2 217.5 94.1 219.5 94.0 221.5 93.9 223.5 93.8 225.5 93.7 227.5 93.7 229.6 93.7 231.6 93.6 233.6 93.6 235.6 93.6 237.6 93.6 239.6 93.6 241.7 93.6 243.7 93.7 245.7 93.7 247.7 93.7 249.7 93.8 251.7 93.8 253.8 93.9 255.8 94.0 257.8 94.0 259.8 94.1 261.8 94.2 263.8 94.4 265.8 94.5 267.8 94.6 269.8 94.8 271.8 95.0 273.8 95.2 275.8 95.4 277.8 95.6 279.8 95.9 281.7 96.1 283.7 96.4 285.7 96.7 287.7 97.1 289.7 97.4 291.6 97.8 293.6 98.2 295.6 98.6 297.5 99.0 299.5 99.5 301.4 100.0 303.4 100.5 305.3 101.0 307.3 101.6 309.2 102.2 311.1 102.9 313.1"/>
<path d="M85.0 277.0L96.0 281.8"/>
<path d="M399.0 400.0L429.5 413.0"/>
</g>
<g fill="none" stroke="#000" stroke-width="1.5" stroke-dasharray="0.38 0.62" stroke-dashoffset="-0.47">
<rect x="147.4" y="119.8" width="8.7" height="9" pathLength="7"/>
<rect x="217.2" y="121.3" width="8.7" height="9" pathLength="7"/>
<rect x="94.9" y="154.3" width="8.7" height="9" pathLength="7"/>
<rect x="83.7" y="207.8" width="8.7" height="9" pathLength="7"/>
<rect x="267.6" y="143.3" width="8.7" height="9" pathLength="7"/>
<rect x="301.9" y="171.6" width="8.7" height="9" pathLength="7"/>
<rect x="347.9" y="235.5" width="8.7" height="9" pathLength="7"/>
<rect x="371.9" y="285.8" width="8.7" height="9" pathLength="7"/>
<rect x="389.9" y="344.3" width="8.7" height="9" pathLength="7"/>
<rect x="403.6" y="414.8" width="8.7" height="9" pathLength="7"/>
<path d="M94.5 259H85.8V267.8H94.5" pathLength="5.3"/>
<path d="M98.8 292H90V300.8H98.8" pathLength="5.3"/>
</g>
<g stroke="#000" stroke-width="1.45" stroke-linejoin="miter">
<path fill="none" d="M176.4 194.7L202.4 161.7L213.5 166.3L187.2 199.2Z"/>
<path fill="#fff" d="M176.4 194.7L187.2 199.2L208.2 224.7L198.3 220.2Z"/>
<path fill="#000" d="M187.2 199.2L213.5 166.3L214.2 180.5L237 176.8L237.6 203.5L210.4 210.4L208.2 224.7Z"/>
<path fill="none" d="M214.1 174.4L227.6 171L237 176.8L214.2 180.5Z"/>
</g>
<g font-size="11.3px" opacity="0.999" stroke="#111" stroke-width="0.22">
<text transform="translate(3.4 16.0) scale(1 1.11)" textLength="168" lengthAdjust="spacingAndGlyphs">FRONT OVER FENDER UPPER</text>
<text transform="translate(8.7 87) scale(1 1.11)" textLength="36" lengthAdjust="spacingAndGlyphs">CLIP E</text>
<text transform="translate(205.5 26.8) scale(1 1.11)" textLength="36.5" lengthAdjust="spacingAndGlyphs">CLIP E</text>
<text transform="translate(155.9 200.2) scale(1 1.04)" font-size="11.2px">(2)</text>
<text transform="translate(449.2 30.2) scale(1 1.11)" textLength="126.2" lengthAdjust="spacingAndGlyphs">FRONT OVER FENDER</text>
<text transform="translate(572.5 68.8) scale(1 1.11)" textLength="92" lengthAdjust="spacingAndGlyphs">FRONT BUMPER</text>
<text transform="translate(508.7 141) scale(1 1.11)" textLength="36.6" lengthAdjust="spacingAndGlyphs">CLIP E</text>
<text transform="translate(423.4 467.3) scale(1 1.11)" textLength="36.6" lengthAdjust="spacingAndGlyphs">CLIP E</text>
</g>
<g fill="none" stroke="#262626" stroke-width="0.9" stroke-linejoin="round">
<path d="M509 32L509.3 64"/>
<path d="M500 62L524.5 66Q527.8 66.6 527.8 69.5V111Q527.8 114.2 524.5 114.2H494"/>
<path d="M500 65.9L522 69Q524 69.5 524 71.8V107Q524 109.7 522 109.7H494"/>
<path d="M522.7 73.5A25.5 25.5 0 0 0 522.7 103"/>
<path d="M523.3 75A28.2 28.2 0 0 0 523.3 101.5"/>
<rect x="523.9" y="82.6" width="5.8" height="12.1" fill="#fff"/>
<path d="M529.7 70V108" stroke-width="1.3"/>
<rect x="530.6" y="68.7" width="3.7" height="39.9" fill="#fff"/>
<path d="M540.1 70A33.9 33.9 0 0 0 540.1 107"/>
<path d="M540.1 71.5A43 43 0 0 0 540.1 105.5"/>
<rect x="540.1" y="58.9" width="2.9" height="55.3" fill="#808080"/>
<path d="M543 81.2Q545 82.2 547 81L556.5 87.6Q558.2 89.5 556.5 91.2L547 98Q545 96.8 543 97.8"/>
<path d="M543 89H556.8M543 90.5H556.8"/>
<path d="M544 85.5L553 88.8M544 94L553 90.7"/>
<path d="M543 64.1H570.7M563.1 64.1V107.7H543"/>
</g>
</svg></body></html>
